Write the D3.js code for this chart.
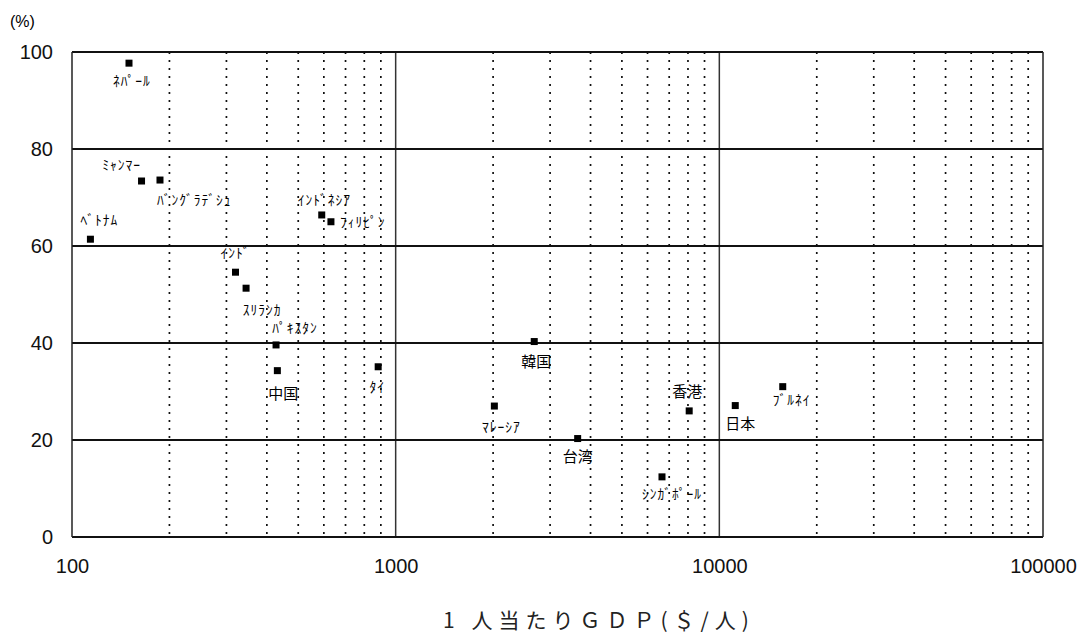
<!DOCTYPE html>
<html>
<head>
<meta charset="utf-8">
<script src="https://cdn.jsdelivr.net/npm/d3@7"></script>
<style>
  body { margin: 0; background: #fff; }
  svg { display: block; }
  .lbl { font-family: "Noto Sans CJK JP", sans-serif; font-size: 13.5px; fill: #000; }
  .tick text { font-family: "Liberation Sans", Arial, sans-serif; font-size: 20px; fill: #111; }
</style>
</head>
<body>
<svg id="chart" width="1086" height="635"></svg>
<script>
// countries, GDP per capita ($) and share (%)
var countries = ["ﾈﾊﾟｰﾙ", "ﾐｬﾝﾏｰ", "ﾊﾞﾝｸﾞﾗﾃﾞｼｭ", "ﾍﾞﾄﾅﾑ", "ｲﾝﾄﾞ", "ｽﾘﾗﾝｶ", "ﾊﾟｷｽﾀﾝ", "中国", "ﾀｲ",
                 "ｲﾝﾄﾞﾈｼｱ", "ﾌｨﾘﾋﾟﾝ", "韓国", "ﾏﾚｰｼｱ", "台湾", "ｼﾝｶﾞﾎﾟｰﾙ", "香港", "日本", "ﾌﾞﾙﾈｲ"]
var gdp = [150, 164, 187, 114, 320, 345, 427, 431, 883, 591, 631, 2680, 2018, 3650, 6650, 8070, 11200, 15700]
var share = [97.7, 73.4, 73.6, 61.4, 54.6, 51.3, 39.6, 34.3, 35.1, 66.4, 65.0, 40.3, 27.0, 20.3, 12.4, 26.0, 27.1, 31.0]
var xTicks = [100, 1000, 10000, 100000]
var yTicks = [0, 20, 40, 60, 80, 100]

// label placement relative to the marker: [dx, dy, anchor]
var labelPlace = [
  [3, 23, "middle"], [-20, -11, "middle"], [-3, 25, "start"], [-10, -14, "start"],
  [0, -14, "middle"], [16, 27, "middle"], [19, -12, "middle"], [6, 28, "middle"],
  [-1, 25, "middle"], [-24, -10, "start"], [9, 5, "start"], [2, 25, "middle"],
  [7, 26, "middle"], [0, 23, "middle"], [10, 22, "middle"], [-2, -14, "middle"],
  [5, 23, "middle"], [-10, 18, "start"]
]

var svg = d3.select("#chart")
var pLeft = 72, pRight = 1043, pTop = 52, pBottom = 537

var x = d3.scaleLog().domain([100, 100000]).range([pLeft, pRight])
var y = d3.scaleLinear().domain([0, 100]).range([pBottom, pTop])

// minor dotted verticals
var minor = []
;[100, 1000, 10000].forEach(function(d) {
  for (var k = 2; k <= 9; k++) minor.push(d * k)
})
svg.append("g").selectAll("line").data(minor).join("line")
  .attr("x1", d => x(d)).attr("x2", d => x(d))
  .attr("y1", pTop).attr("y2", pBottom)
  .attr("stroke", "#111").attr("stroke-width", 1.7)
  .attr("stroke-dasharray", "2,6")

// major verticals
svg.append("g").selectAll("line").data([1000, 10000]).join("line")
  .attr("x1", d => x(d)).attr("x2", d => x(d))
  .attr("y1", pTop).attr("y2", pBottom)
  .attr("stroke", "#333").attr("stroke-width", 1.5)

// horizontal grid
svg.append("g").selectAll("line").data(yTicks).join("line")
  .attr("x1", pLeft).attr("x2", pRight)
  .attr("y1", d => y(d)).attr("y2", d => y(d))
  .attr("stroke", "#111").attr("stroke-width", 2)

// frame sides
svg.append("line").attr("x1", pLeft).attr("x2", pLeft).attr("y1", pTop).attr("y2", pBottom)
  .attr("stroke", "#222").attr("stroke-width", 1.5)
svg.append("line").attr("x1", pRight).attr("x2", pRight).attr("y1", pTop).attr("y2", pBottom)
  .attr("stroke", "#222").attr("stroke-width", 1.5)

// axes (labels only)
var yAxis = svg.append("g").attr("transform", "translate(" + pLeft + ",0)")
  .call(d3.axisLeft(y).tickValues(yTicks).tickSize(0).tickPadding(19))
var xAxis = svg.append("g").attr("transform", "translate(0," + pBottom + ")")
  .call(d3.axisBottom(x).tickValues(xTicks).tickSize(0).tickPadding(22).tickFormat(d3.format("d")))
yAxis.select(".domain").remove()
xAxis.select(".domain").remove()

svg.append("text").attr("x", 10).attr("y", 27)
  .style("font-family", "Liberation Sans, Arial, sans-serif").style("font-size", "16px")
  .text("(%)")

svg.append("text").attr("x", 599).attr("y", 628).attr("text-anchor", "middle")
  .style("font-family", "Noto Sans CJK JP, sans-serif").style("font-size", "21px")
  .style("letter-spacing", "6px").attr("fill", "#222")
  .text("1 人当たりＧＤＰ(＄/人)")

// markers
var pts = countries.map(function(c, i) { return {name: c, g: gdp[i], s: share[i], p: labelPlace[i]} })
svg.append("g").selectAll("rect").data(pts).join("rect")
  .attr("x", d => x(d.g) - 3.5).attr("y", d => y(d.s) - 3.5)
  .attr("width", 7).attr("height", 7).attr("fill", "#000")

svg.append("g").selectAll("text").data(pts).join("text")
  .attr("class", "lbl")
  .attr("x", d => x(d.g) + d.p[0]).attr("y", d => y(d.s) + d.p[1])
  .attr("text-anchor", d => d.p[2])
  .style("letter-spacing", d => /[一-龥]/.test(d.name) ? "0px" : "1px")
  .style("font-size", d => /[一-龥]/.test(d.name) ? "15px" : "13.5px")
  .text(d => d.name)
</script>
</body>
</html>
